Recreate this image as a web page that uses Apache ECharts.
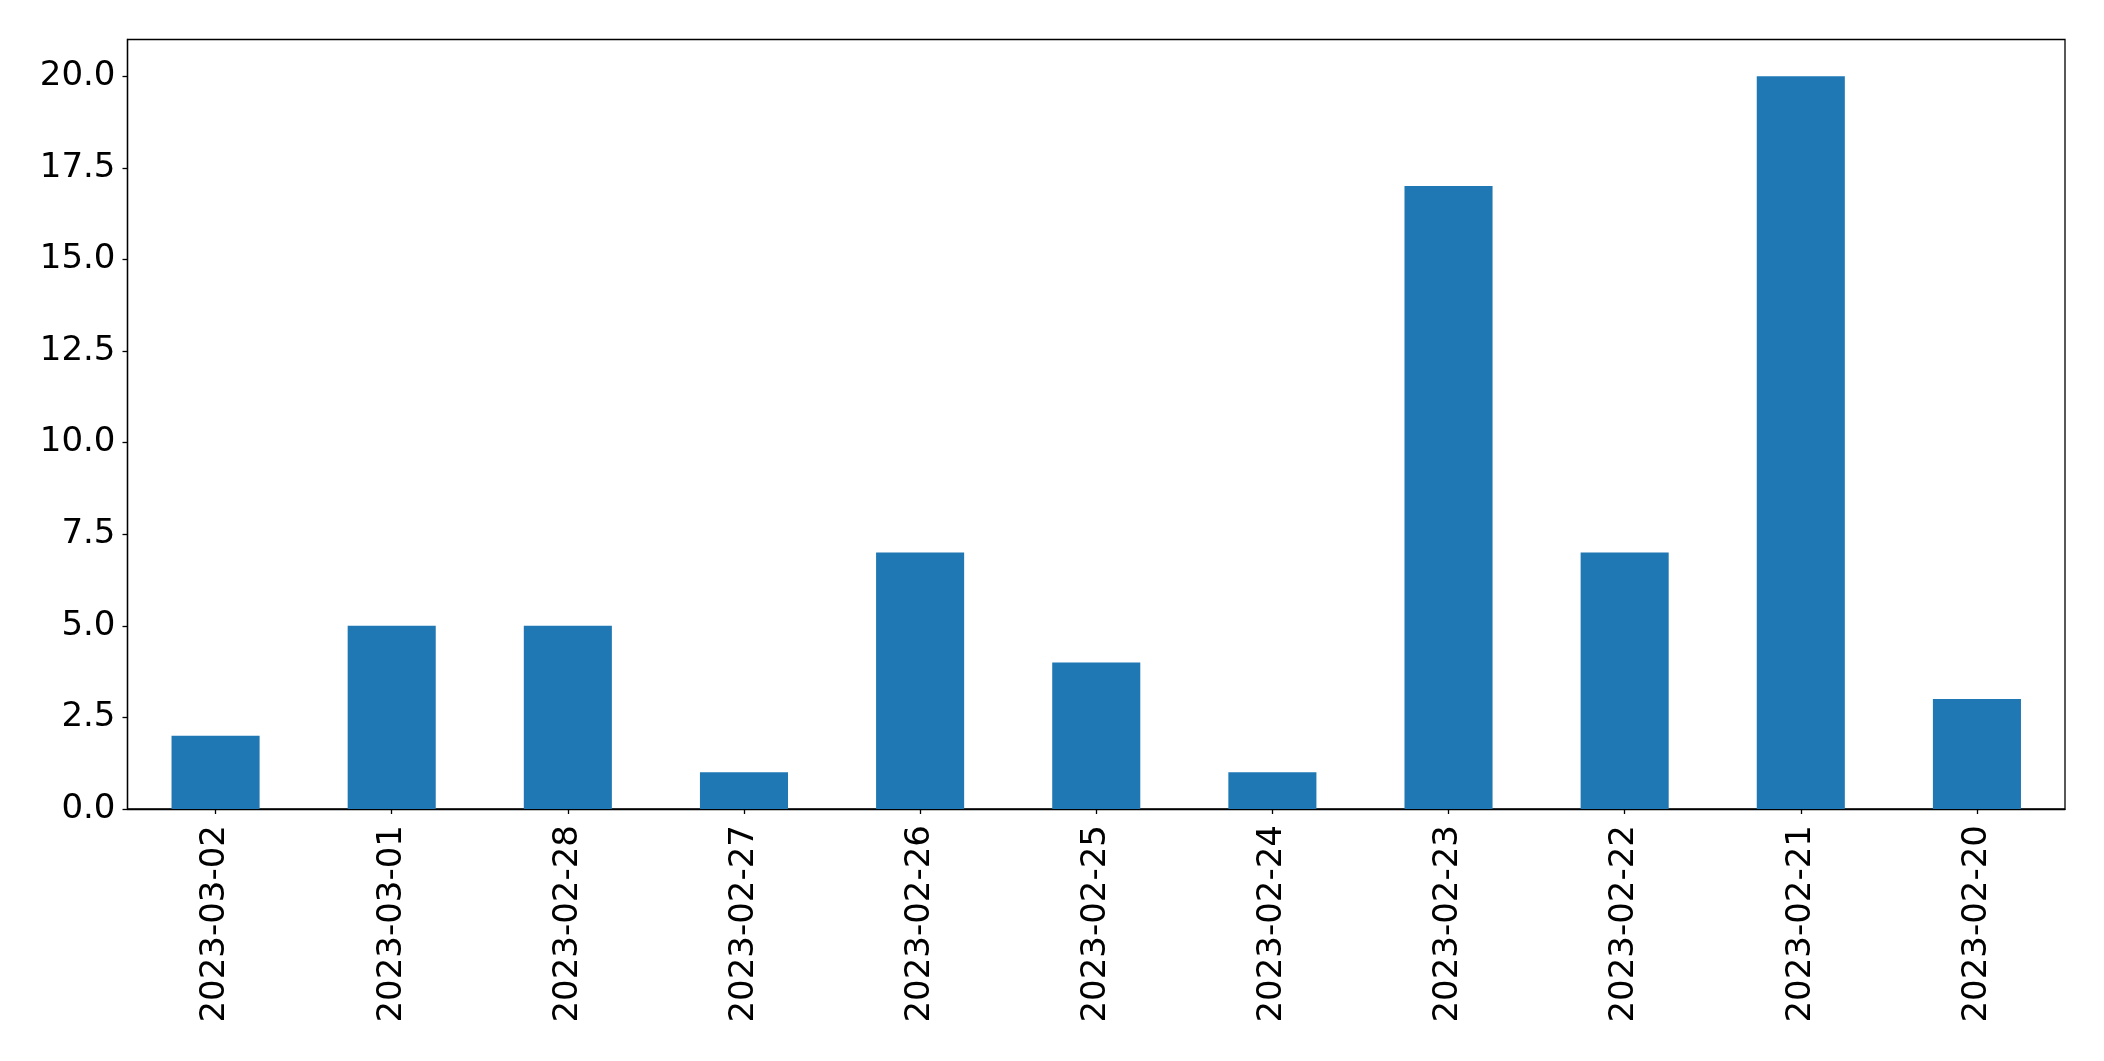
<!DOCTYPE html>
<html>
<head>
<meta charset="utf-8">
<script src="https://cdn.jsdelivr.net/npm/echarts@6/dist/echarts.min.js"></script>
<style>html,body{margin:0;padding:0;background:#fff}#c{width:2104px;height:1061px}</style>
</head>
<body>
<div id="c"></div>
<script>
const categories = ['2023-03-02','2023-03-01','2023-02-28','2023-02-27','2023-02-26','2023-02-25','2023-02-24','2023-02-23','2023-02-22','2023-02-21','2023-02-20'];
const values = [2, 5, 5, 1, 7, 4, 1, 17, 7, 20, 3];
const yTicks = [0, 2.5, 5, 7.5, 10, 12.5, 15, 17.5, 20];

const chart = echarts.init(document.getElementById('c'), null, {renderer: 'canvas'});
chart.setOption({
  animation: false,
  backgroundColor: '#fff',
  textStyle: {fontFamily: 'DejaVu Sans'},
  grid: {left: 127.5, right: 39, top: 39.5, bottom: 252, show: true, borderColor: '#000', borderWidth: 1.3, containLabel: false},
  xAxis: {
    type: 'category',
    data: categories,
    axisLine: {show: true, lineStyle: {color: '#000', width: 1.3}},
    axisTick: {show: true, alignWithLabel: true, length: 5, lineStyle: {color: '#000', width: 1.3}},
    axisLabel: {rotate: 90, color: '#000', fontSize: 34, fontFamily: 'DejaVu Sans', margin: 16, interval: 0},
    splitLine: {show: false}
  },
  yAxis: {
    type: 'value',
    min: 0,
    max: 21,
    axisLine: {show: true, lineStyle: {color: '#000', width: 1.3}},
    axisTick: {show: true, length: 5, customValues: yTicks, lineStyle: {color: '#000', width: 1.3}},
    axisLabel: {color: '#000', fontSize: 34, fontFamily: 'DejaVu Sans', margin: 12, customValues: yTicks,
      formatter: v => Number(v).toFixed(1)},
    splitLine: {show: false}
  },
  series: [{
    type: 'bar',
    data: values,
    barWidth: '50%',
    itemStyle: {color: '#1f77b4'}
  }]
});
</script>
</body>
</html>
